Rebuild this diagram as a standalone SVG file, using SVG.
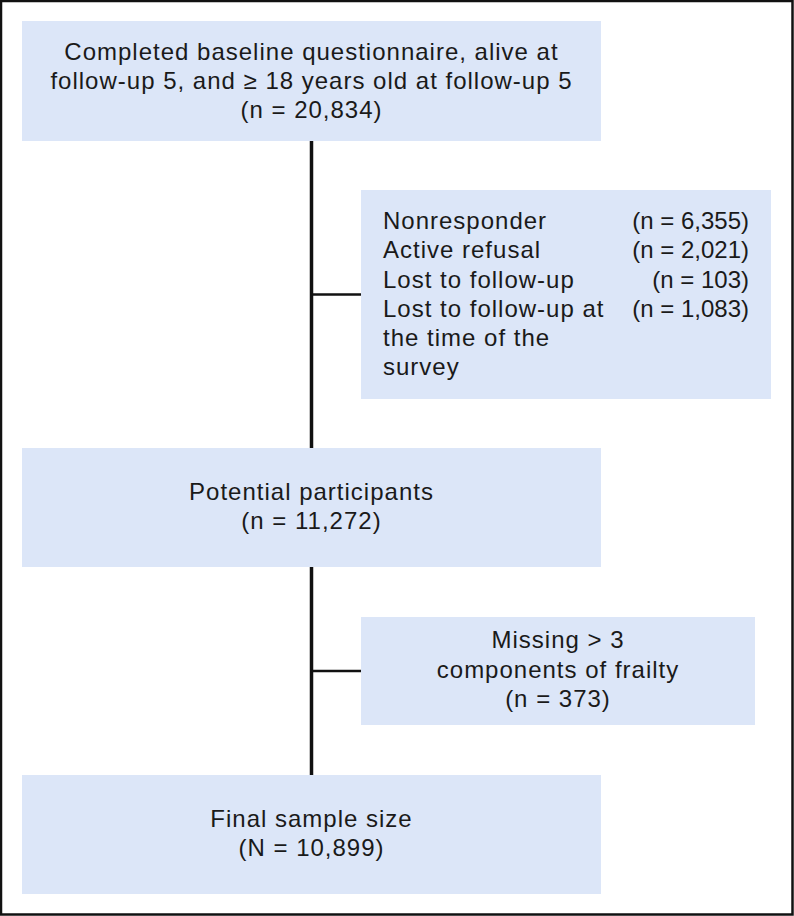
<svg xmlns="http://www.w3.org/2000/svg" width="794" height="916" viewBox="0 0 794 916">
<style>
.box{fill:#dce6f8;}
.t{font-family:"Liberation Sans",Arial,sans-serif;font-size:24px;fill:#1a1a1a;letter-spacing:1px;}
.c{text-anchor:middle;}
.r{text-anchor:end;letter-spacing:0px;}
.ln{stroke:#111;fill:none;}
</style>
<rect x="1" y="1" width="791.5" height="913.5" fill="#fff" stroke="#111" stroke-width="2.5"/>
<g id="connectors">
<line class="ln" x1="311.5" y1="140" x2="311.5" y2="449" stroke-width="3.5"/>
<line class="ln" x1="311.5" y1="294.5" x2="362" y2="294.5" stroke-width="2.5"/>
<line class="ln" x1="311.5" y1="566" x2="311.5" y2="776" stroke-width="3.5"/>
<line class="ln" x1="311.5" y1="671" x2="362" y2="671" stroke-width="2.5"/>
</g>
<g id="baseline">
<rect class="box" x="22" y="21" width="579" height="120"/>
<text class="t c" x="311.5" y="60">Completed baseline questionnaire, alive at</text>
<text class="t c" x="311.5" y="89">follow-up 5, and ≥ 18 years old at follow-up 5</text>
<text class="t c" x="311.5" y="118">(n = 20,834)</text>
</g>
<g id="excluded1">
<rect class="box" x="361" y="190" width="410" height="209"/>
<text class="t" x="383" y="229">Nonresponder</text>
<text class="t r" x="749" y="229">(n = 6,355)</text>
<text class="t" x="383" y="258">Active refusal</text>
<text class="t r" x="749" y="258">(n = 2,021)</text>
<text class="t" x="383" y="288">Lost to follow-up</text>
<text class="t r" x="749" y="288">(n = 103)</text>
<text class="t" x="383" y="317">Lost to follow-up at</text>
<text class="t r" x="749" y="317">(n = 1,083)</text>
<text class="t" x="383" y="346">the time of the</text>
<text class="t" x="383" y="375">survey</text>
</g>
<g id="potential">
<rect class="box" x="22" y="448" width="579" height="119"/>
<text class="t c" x="311.5" y="500">Potential participants</text>
<text class="t c" x="311.5" y="529">(n = 11,272)</text>
</g>
<g id="excluded2">
<rect class="box" x="361" y="617" width="394" height="108"/>
<text class="t c" x="558" y="648">Missing &gt; 3</text>
<text class="t c" x="558" y="678">components of frailty</text>
<text class="t c" x="558" y="707">(n = 373)</text>
</g>
<g id="final">
<rect class="box" x="22" y="775" width="579" height="119"/>
<text class="t c" x="311.5" y="827">Final sample size</text>
<text class="t c" x="311.5" y="856">(N = 10,899)</text>
</g>
</svg>
